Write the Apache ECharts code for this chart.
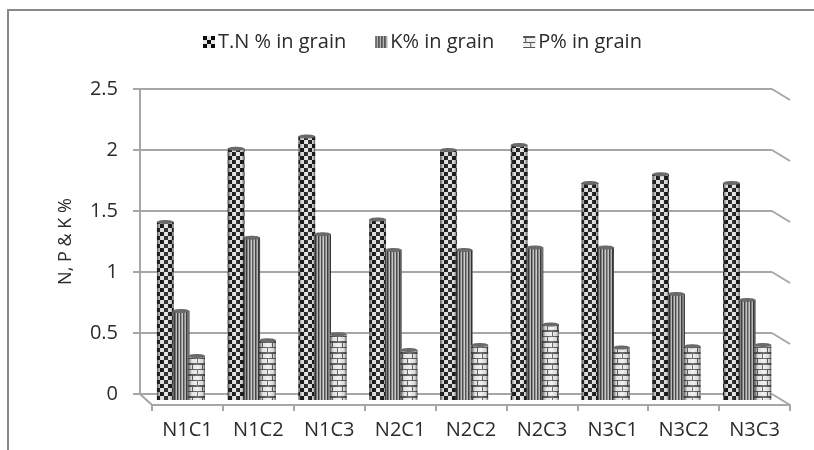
<!DOCTYPE html>
<html><head><meta charset="utf-8">
<style>html,body{margin:0;padding:0;background:#fff}#c{width:814px;height:450px}</style>
<script src="https://cdn.jsdelivr.net/npm/echarts@6/dist/echarts.min.js"></script>
</head><body><div id="c"></div>
<script>
const categories = ['N1C1','N1C2','N1C3','N2C1','N2C2','N2C3','N3C1','N3C2','N3C3'];
const tnValues = [1.41,2.01,2.11,1.43,2.00,2.04,1.73,1.80,1.73];
const kValues  = [0.68,1.28,1.31,1.18,1.18,1.20,1.20,0.82,0.77];
const pValues  = [0.31,0.44,0.49,0.36,0.40,0.57,0.38,0.39,0.40];
const yTicks = [0,0.5,1,1.5,2,2.5];
const seriesNames = ['T.N % in grain','K% in grain','P% in grain'];

function tile(w,h,bg,draw){const c=document.createElement('canvas');c.width=w;c.height=h;const g=c.getContext('2d');g.fillStyle=bg;g.fillRect(0,0,w,h);draw(g);return {image:c,repeat:'repeat'};}
const checker = tile(8,8,'#e6e6e6',g=>{g.fillStyle='#0a0a0a';g.fillRect(0,0,4,4);g.fillRect(4,4,4,4);});
const stripes = tile(3,3,'#c4c4c4',g=>{g.fillStyle='#333';g.fillRect(0,0,1,3);g.fillStyle='#808080';g.fillRect(1,0,1,3);});
const bricks = tile(10,11,'#f0f0f0',g=>{g.fillStyle='#555';g.fillRect(0,0,10,2);g.fillRect(0,6,10,1);g.fillRect(2,0,1,6);g.fillRect(7,6,1,5);});
const patterns=[checker,stripes,bricks];

const shade={type:'linear',x:0,y:0,x2:1,y2:0,colorStops:[
 {offset:0,color:'rgba(20,20,20,0.75)'},{offset:0.22,color:'rgba(120,120,120,0.1)'},
 {offset:0.55,color:'rgba(255,255,255,0.2)'},{offset:0.85,color:'rgba(90,90,90,0.15)'},{offset:1,color:'rgba(20,20,20,0.7)'}]};

function cylinder(idx){
  return function(params,api){
    const band=api.size([1,0])[0], pitch=band*0.222, w=band*0.235;
    const x=api.value(0), v=api.value(1);
    const top=api.coord([x,v]), base=api.coord([x,-0.05]);
    const cx=top[0]+(idx-1)*pitch, l=cx-w/2, ry=2;
    return {type:'group',children:[
      {type:'rect',shape:{x:l,y:top[1],width:w,height:base[1]-top[1]},style:{fill:patterns[idx]}},
      {type:'rect',shape:{x:l,y:top[1],width:w,height:base[1]-top[1]},style:{fill:shade}},
      {type:'ellipse',shape:{cx:cx,cy:top[1],rx:w/2,ry:ry},style:{fill:'#6a6a6a'}}
    ]};
  };
}
const barSeries=[tnValues,kValues,pValues].map((vals,i)=>({
  name:seriesNames[i],type:'custom',xAxisIndex:2,yAxisIndex:2,z:5,clip:false,
  itemStyle:{color:patterns[i]},
  renderItem:cylinder(i),encode:{x:0,y:1},
  data:vals.map((v,j)=>[j,v])
}));

const wallColor='#a6a6a6';
const wallSeries={type:'custom',xAxisIndex:0,yAxisIndex:0,z:1,clip:false,silent:true,legendHoverLink:false,
  renderItem:(p,api)=>{
    const a=api.coord([1,api.value(0)]);
    const o=api.coord([0,0]);
    const kids=[{type:'line',shape:{x1:a[0],y1:a[1],x2:a[0]+18,y2:a[1]+11},style:{stroke:wallColor,lineWidth:2}}];
    if(api.value(0)===0){kids.push({type:'line',shape:{x1:o[0],y1:o[1],x2:o[0]+12,y2:o[1]+11},style:{stroke:wallColor,lineWidth:2}});}
    return {type:'group',children:kids};
  },
  encode:{y:0},data:yTicks.map(v=>[v])};

const font='"Open Sans","Noto Sans",sans-serif';
const ink='#2b2b2b';
const chart=echarts.init(document.getElementById('c'));
chart.setOption({
  animation:false,backgroundColor:'#fff',
  legend:{left:198,top:27,itemWidth:12,itemHeight:12,itemGap:29,icon:'rect',
    data:seriesNames,textStyle:{fontFamily:font,fontSize:20,color:ink,padding:[0,0,0,-2]}},
  grid:[
    {left:140,right:42,top:89,bottom:56},
    {left:152,right:24,top:100,bottom:45},
    {left:145.6,right:31.4,top:89,bottom:50}
  ],
  xAxis:[
    {type:'value',gridIndex:0,min:0,max:1,show:false},
    {type:'category',gridIndex:1,data:categories,
      axisLine:{show:true,lineStyle:{color:wallColor,width:2}},
      axisTick:{show:true,alignWithLabel:false,length:6,lineStyle:{color:wallColor,width:2}},
      axisLabel:{fontFamily:font,fontSize:20,color:ink,margin:15,interval:0}},
    {type:'category',gridIndex:2,data:categories,show:false}
  ],
  yAxis:[
    {type:'value',gridIndex:0,min:0,max:2.5,interval:0.5,
      name:'N, P & K %',nameLocation:'middle',nameGap:65,
      nameTextStyle:{fontFamily:font,fontSize:18,color:ink},
      axisLine:{show:true,lineStyle:{color:wallColor,width:2}},
      axisTick:{show:true,length:7,lineStyle:{color:wallColor,width:2}},
      axisLabel:{fontFamily:font,fontSize:20,color:ink,margin:22,padding:[4,0,0,0],formatter:v=>String(v)},
      splitLine:{show:true,lineStyle:{color:wallColor,width:2}}},
    {type:'value',gridIndex:1,min:0,max:2.5,show:false},
    {type:'value',gridIndex:2,min:-0.05,max:2.5,show:false}
  ],
  series:[wallSeries,...barSeries],
  graphic:[
    {type:'line',silent:true,shape:{x1:7,y1:10,x2:814,y2:10},style:{stroke:'#888',lineWidth:2}},
    {type:'line',silent:true,shape:{x1:8,y1:10,x2:8,y2:450},style:{stroke:'#888',lineWidth:2}}
  ]
});
</script></body></html>
